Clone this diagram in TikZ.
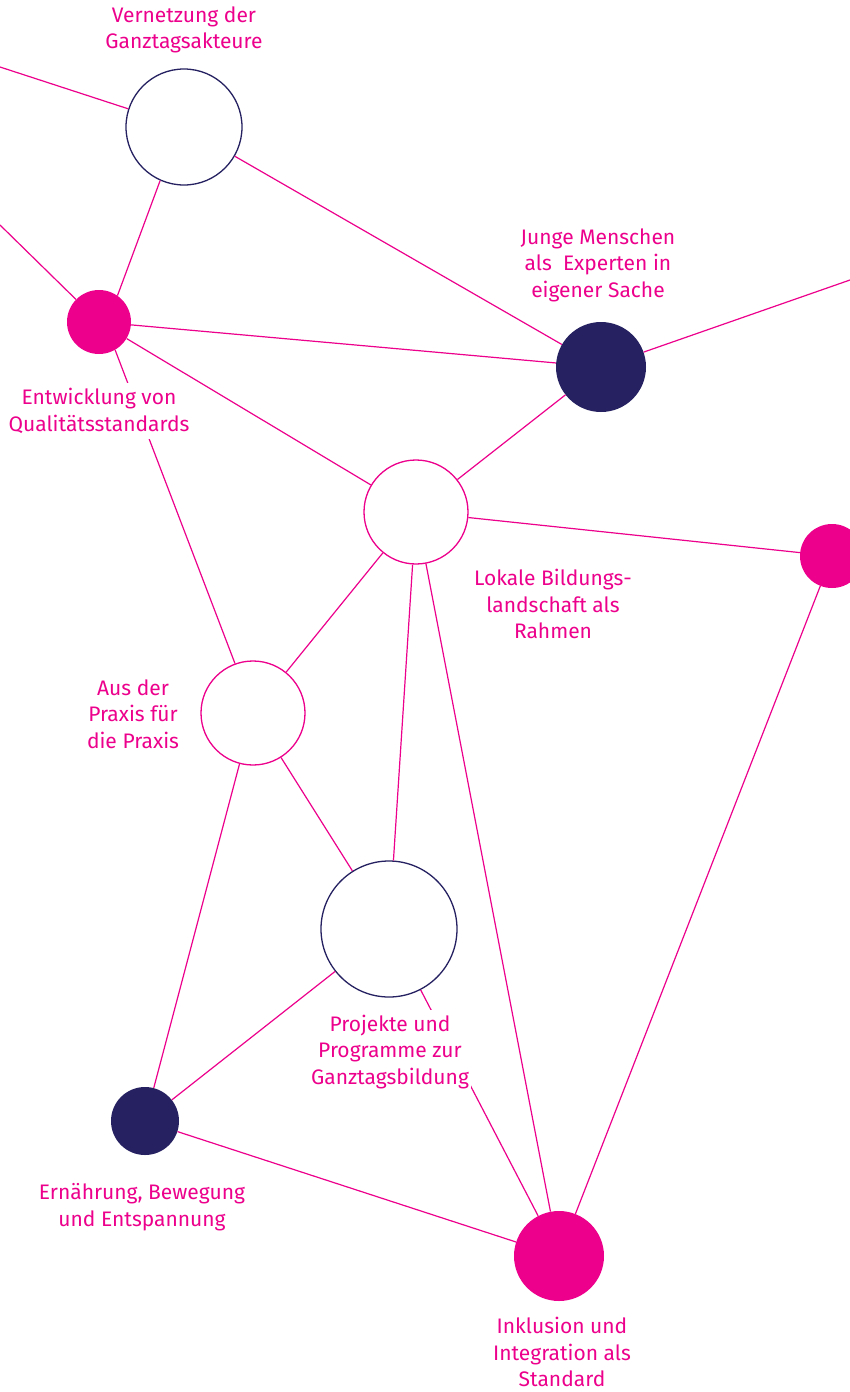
\documentclass[tikz,border=0pt]{standalone}
\usepackage{fontspec}
\setmainfont{Fira Sans}
\definecolor{pink}{HTML}{EC008C}
\definecolor{navy}{HTML}{262262}
\begin{document}
\begin{tikzpicture}[x=1pt,y=-1pt,
  ring/.style={circle,inner sep=0pt,line width=1.3pt,fill=white},
  dot/.style={circle,inner sep=0pt},
  edge/.style={draw=pink,line width=1.2pt},
  lbl/.style={text=pink,align=center,font=\fontsize{21}{26.5}\selectfont,inner sep=0pt},
  lblw/.style={lbl,fill=white,inner xsep=2pt,inner ysep=5pt}]
\useasboundingbox (0,0) rectangle (850,1392);
\clip (0,0) rectangle (850,1392);
\fill[white] (0,0) rectangle (850,1392);
% nodes
\node[ring,draw=navy,minimum size=116pt] (A) at (184,127) {};
\node[dot,fill=pink,minimum size=64pt] (B) at (99,322) {};
\node[dot,fill=navy,minimum size=90pt] (C) at (601,367) {};
\node[ring,draw=pink,minimum size=104pt] (D) at (416,512) {};
\node[dot,fill=pink,minimum size=64pt] (E) at (832,556) {};
\node[ring,draw=pink,minimum size=104pt] (F) at (253,713) {};
\node[ring,draw=navy,minimum size=136pt] (G) at (389,929) {};
\node[dot,fill=navy,minimum size=68pt] (H) at (145,1121) {};
\node[dot,fill=pink,minimum size=90pt] (I) at (559,1256) {};
\coordinate (l1) at (0,67);
\coordinate (l2) at (0,225);
\coordinate (r1) at (850,280);
% edges
\path[edge] (l1) -- (A);
\path[edge] (A) -- (C);
\path[edge] (A.246) -- (B.55);
\path[edge] (l2) -- (B);
\path[edge] (B) -- (C);
\path[edge] (B) -- (D);
\path[edge] (B.300) -- (F.110);
\path[edge] (C) -- (r1);
\path[edge] (C) -- (D);
\path[edge] (D) -- (E);
\path[edge] (D) -- (F);
\path[edge] (D) -- (G);
\path[edge] (D) -- (I);
\path[edge] (E) -- (I);
\path[edge] (F) -- (G);
\path[edge] (F) -- (H);
\path[edge] (G) -- (H);
\path[edge] (G) -- (I);
\path[edge] (H) -- (I);
% labels
\node[lbl] (tA) at (184,30) {Vernetzung der\\Ganztagsakteure};
\node[lblw] (tB) at (99,411) {Entwicklung von\\Qualitätsstandards};
\node[lbl] (tC) at (598,265) {Junge Menschen\\als~ Experten in\\eigener Sache};
\node[lbl] (tD) at (553,604) {Lokale Bildungs-\\landschaft als\\Rahmen};
\node[lbl] (tF) at (133,714) {Aus der\\Praxis für\\die Praxis};
\node[lblw] (tG) at (390,1052) {Projekte und\\Programme zur\\Ganztagsbildung};
\node[lbl] (tH) at (142,1207) {Ernährung, Bewegung\\und Entspannung};
\node[lbl] (tI) at (562,1352) {Inklusion und\\Integration als\\Standard};
\end{tikzpicture}
\end{document}
